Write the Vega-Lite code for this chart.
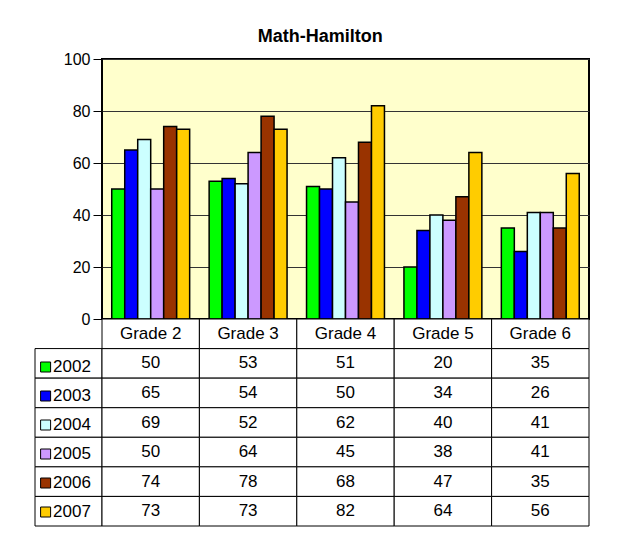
{
  "$schema": "https://vega.github.io/schema/vega-lite/v6.json",
  "background": "white",
  "padding": {"left": 34, "top": 28, "right": 0, "bottom": 0},
  "title": {"text": "Math-Hamilton", "font": "Liberation Sans", "fontSize": 18, "fontWeight": "bold", "color": "black", "anchor": "middle", "dx": 8, "offset": 4},
  "datasets": {
    "scores": [
      {"grade": "Grade 2", "year": "2002", "value": 50},
      {"grade": "Grade 2", "year": "2003", "value": 65},
      {"grade": "Grade 2", "year": "2004", "value": 69},
      {"grade": "Grade 2", "year": "2005", "value": 50},
      {"grade": "Grade 2", "year": "2006", "value": 74},
      {"grade": "Grade 2", "year": "2007", "value": 73},
      {"grade": "Grade 3", "year": "2002", "value": 53},
      {"grade": "Grade 3", "year": "2003", "value": 54},
      {"grade": "Grade 3", "year": "2004", "value": 52},
      {"grade": "Grade 3", "year": "2005", "value": 64},
      {"grade": "Grade 3", "year": "2006", "value": 78},
      {"grade": "Grade 3", "year": "2007", "value": 73},
      {"grade": "Grade 4", "year": "2002", "value": 51},
      {"grade": "Grade 4", "year": "2003", "value": 50},
      {"grade": "Grade 4", "year": "2004", "value": 62},
      {"grade": "Grade 4", "year": "2005", "value": 45},
      {"grade": "Grade 4", "year": "2006", "value": 68},
      {"grade": "Grade 4", "year": "2007", "value": 82},
      {"grade": "Grade 5", "year": "2002", "value": 20},
      {"grade": "Grade 5", "year": "2003", "value": 34},
      {"grade": "Grade 5", "year": "2004", "value": 40},
      {"grade": "Grade 5", "year": "2005", "value": 38},
      {"grade": "Grade 5", "year": "2006", "value": 47},
      {"grade": "Grade 5", "year": "2007", "value": 64},
      {"grade": "Grade 6", "year": "2002", "value": 35},
      {"grade": "Grade 6", "year": "2003", "value": 26},
      {"grade": "Grade 6", "year": "2004", "value": 41},
      {"grade": "Grade 6", "year": "2005", "value": 41},
      {"grade": "Grade 6", "year": "2006", "value": 35},
      {"grade": "Grade 6", "year": "2007", "value": 56}
    ]
  },
  "columns": 2,
  "spacing": 0,
  "bounds": "flush",
  "concat": [
    {
      "width": 67,
      "height": 260,
      "data": {"values": []},
      "mark": "rect",
      "encoding": {}
    },
    {
      "width": 487,
      "height": 260,
      "data": {"name": "scores"},
      "view": {"fill": "#FFFFCC", "stroke": "black", "strokeWidth": 2},
      "mark": {"type": "bar", "stroke": "black", "strokeWidth": 1.5},
      "encoding": {
        "x": {"field": "grade", "type": "nominal", "scale": {"domain": ["Grade 2", "Grade 3", "Grade 4", "Grade 5", "Grade 6"], "paddingInner": 0, "paddingOuter": 0}, "axis": null},
        "xOffset": {"field": "year", "type": "nominal", "scale": {"domain": ["2002", "2003", "2004", "2005", "2006", "2007"], "paddingInner": 0, "paddingOuter": 0.75}},
        "y": {"field": "value", "type": "quantitative", "scale": {"domain": [0, 100]},
          "axis": {"values": [0, 20, 40, 60, 80, 100], "grid": true, "gridColor": "#333333", "gridWidth": 1, "domain": false, "tickSize": 9, "tickColor": "black", "tickWidth": 1, "labelFontSize": 16, "labelFont": "Liberation Sans", "labelColor": "black", "labelPadding": 3, "title": null}},
        "color": {"field": "year", "type": "nominal",
          "scale": {"domain": ["2002", "2003", "2004", "2005", "2006", "2007"], "range": ["#00FF00", "#0000FF", "#CCFFFF", "#CC99FF", "#993300", "#FFCC00"]},
          "legend": {"orient": "none", "legendX": 2.1, "legendY": 299.5, "title": null, "symbolType": "square", "symbolSize": 100, "symbolStrokeColor": "black", "symbolStrokeWidth": 1, "symbolOpacity": 1, "labelFontSize": 17, "labelFont": "Liberation Sans", "labelColor": "black", "labelOffset": -1, "rowPadding": 11}}
      }
    },
    {
      "width": 67,
      "height": 207,
      "data": {"name": "scores"},
      "transform": [{"filter": "datum.grade === 'Grade 2'"}],
      "mark": {"type": "rect", "fill": "white", "stroke": "black", "strokeWidth": 1},
      "encoding": {
        "y": {"field": "year", "type": "nominal", "scale": {"domain": ["Grade", "2002", "2003", "2004", "2005", "2006", "2007"], "paddingInner": 0, "paddingOuter": 0}, "axis": null}
      }
    },
    {
      "width": 487,
      "height": 207,
      "data": {"name": "scores"},
      "encoding": {
        "x": {"field": "grade", "type": "nominal", "scale": {"domain": ["Grade 2", "Grade 3", "Grade 4", "Grade 5", "Grade 6"], "paddingInner": 0, "paddingOuter": 0}, "axis": null}
      },
      "layer": [
        {
          "mark": {"type": "rect", "fill": "white", "stroke": "black", "strokeWidth": 1},
          "encoding": {"y": {"field": "year", "type": "nominal", "scale": {"domain": ["Grade", "2002", "2003", "2004", "2005", "2006", "2007"], "paddingInner": 0, "paddingOuter": 0}, "axis": null}}
        },
        {
          "transform": [{"filter": "datum.year === '2002'"}],
          "mark": {"type": "rect", "fill": "white", "stroke": "black", "strokeWidth": 1},
          "encoding": {"y": {"datum": "Grade", "type": "nominal"}}
        },
        {
          "mark": {"type": "text", "font": "Liberation Sans", "fontSize": 17, "color": "black", "baseline": "middle"},
          "encoding": {"y": {"field": "year", "type": "nominal"}, "text": {"field": "value"}}
        },
        {
          "transform": [{"filter": "datum.year === '2002'"}],
          "mark": {"type": "text", "font": "Liberation Sans", "fontSize": 17, "color": "black", "baseline": "middle"},
          "encoding": {"y": {"datum": "Grade", "type": "nominal"}, "text": {"field": "grade"}}
        }
      ]
    }
  ],
  "config": {"font": "Liberation Sans", "view": {"stroke": null}}
}
